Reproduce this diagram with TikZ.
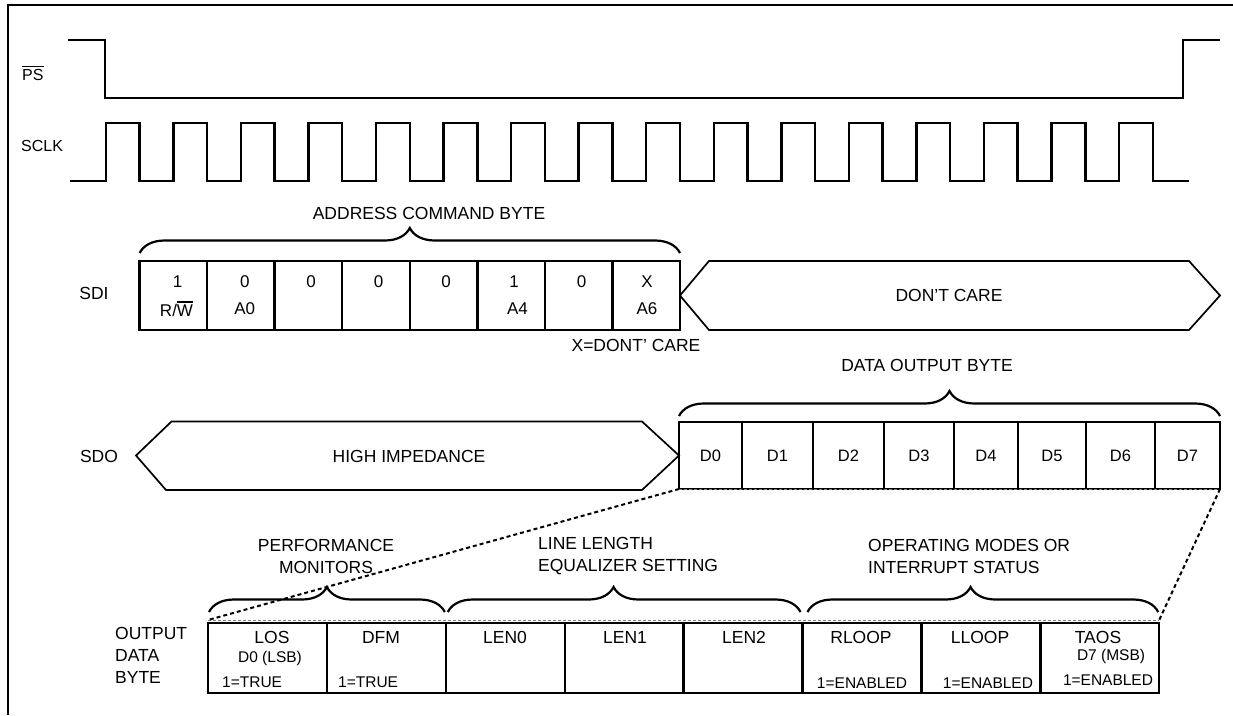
\documentclass[tikz,border=0pt]{standalone}
\usepackage{fontspec}
\setmainfont{Liberation Sans}
\usetikzlibrary{decorations.pathreplacing}

\newcommand\barsig[1]{\leavevmode\vbox{\hrule height 1.4pt\kern 2.2pt\hbox{#1}}}

\begin{document}
\begin{tikzpicture}[x=1pt,y=-1pt,
		wave/.style={line width=2.4pt},
		bus/.style={line width=1.7pt, line join=miter},
		bitcell/.style={draw, line width=2.4pt, inner sep=0pt, outer sep=0pt},
		bracetop/.style={line width=2.2pt, decorate, decoration={brace, amplitude=25pt}},
		lbl/.style={inner sep=0pt, font=\fontsize{17.5}{22}\selectfont},
		bit/.style={inner sep=0pt, font=\fontsize{17}{20}\selectfont},
		note/.style={inner sep=0pt, font=\fontsize{15.5}{18}\selectfont},
		zoomside/.style={line width=2pt, dash pattern=on 4pt off 3pt},
		zoomedge/.style={line width=0.7pt, gray, dash pattern=on 3pt off 2pt}]
				\useasboundingbox (0,0) rectangle (1233,715);
				\draw[line width=2pt] (8,715) -- (8,5) -- (1233,5);
				% PS and SCLK
				\node[lbl, anchor=west, font=\fontsize{16}{20}\selectfont] (ps) at (22,73) {\barsig{PS}};
				\node[lbl, anchor=west, font=\fontsize{16}{20}\selectfont] (sclk) at (21,146) {SCLK};
				\draw[wave] (68,40) -- (105,40) -- (105,98) -- (1183,98) -- (1183,40) -- (1220,40);
				\draw[wave] (70,181)
					-- (106,181) -- (106,123) -- (139.5,123) -- (139.5,181)
					-- (173.5,181) -- (173.5,123) -- (207,123) -- (207,181)
					-- (241,181) -- (241,123) -- (274.5,123) -- (274.5,181)
					-- (308.5,181) -- (308.5,123) -- (342,123) -- (342,181)
					-- (376,181) -- (376,123) -- (410,123) -- (410,181)
					-- (443.5,181) -- (443.5,123) -- (477.5,123) -- (477.5,181)
					-- (511,181) -- (511,123) -- (545,123) -- (545,181)
					-- (578.5,181) -- (578.5,123) -- (612.5,123) -- (612.5,181)
					-- (646,181) -- (646,123) -- (680,123) -- (680,181)
					-- (714,181) -- (714,123) -- (747.5,123) -- (747.5,181)
					-- (781.5,181) -- (781.5,123) -- (815,123) -- (815,181)
					-- (849,181) -- (849,123) -- (882.5,123) -- (882.5,181)
					-- (916.5,181) -- (916.5,123) -- (950,123) -- (950,181)
					-- (984,181) -- (984,123) -- (1017.5,123) -- (1017.5,181)
					-- (1051.5,181) -- (1051.5,123) -- (1085.5,123) -- (1085.5,181)
					-- (1119,181) -- (1119,123) -- (1153,123) -- (1153,181)
					-- (1189,181);
				% SDI
				\node[lbl] (sdi) at (94,293) {SDI};
				\node[bitcell, minimum width=67.55pt, minimum height=69pt] (s1) at (173.4,295.5) {};
				\node[bitcell, minimum width=67.55pt, minimum height=69pt] (s2) at (240.9,295.5) {};
				\node[bitcell, minimum width=67.55pt, minimum height=69pt] (s3) at (308.5,295.5) {};
				\node[bitcell, minimum width=67.55pt, minimum height=69pt] (s4) at (376.0,295.5) {};
				\node[bitcell, minimum width=67.55pt, minimum height=69pt] (s5) at (443.6,295.5) {};
				\node[bitcell, minimum width=67.55pt, minimum height=69pt] (s6) at (511.1,295.5) {};
				\node[bitcell, minimum width=67.55pt, minimum height=69pt] (s7) at (578.7,295.5) {};
				\node[bitcell, minimum width=67.55pt, minimum height=69pt] (s8) at (646.2,295.5) {};
				\node[bit] (v1) at (177.5,282) {1};
				\node[bit] (v2) at (244.8,282) {0};
				\node[bit] (v3) at (311,282) {0};
				\node[bit] (v4) at (378.7,282) {0};
				\node[bit] (v5) at (446,282) {0};
				\node[bit] (v6) at (514,282) {1};
				\node[bit] (v7) at (581.5,282) {0};
				\node[bit] (v8) at (647,282) {X};
				\node[bit] (rw) at (176.5,309) {R/\barsig{W}};
				\node[bit] (a0) at (244.8,309) {A0};
				\node[bit] (a4) at (517.5,309) {A4};
				\node[bit] (a6) at (647,309) {A6};
				\draw[bracetop] ([yshift=8pt]s1.north west) -- ([yshift=8pt]s8.north east);
				\node[lbl] (acb) at (429,213) {ADDRESS COMMAND BYTE};
				\draw[bus] (s8.east) -- (709,261) -- (1189,261) -- (1220,295.5) -- (1189,330) -- (709,330) -- cycle;
				\node[lbl] (dc) at (949,295.5) {DON'T CARE};
				\node[lbl] (xdc) at (636,345) {X=DONT' CARE};
				% SDO
				\node[lbl] (sdo) at (99,456) {SDO};
				\node[bitcell, minimum width=63pt, minimum height=67pt, font=\fontsize{16.5}{20}\selectfont] (d0) at (710.5,455.5) {D0};
				\node[bitcell, minimum width=71pt, minimum height=67pt, font=\fontsize{16.5}{20}\selectfont] (d1) at (777.5,455.5) {D1};
				\node[bitcell, minimum width=71pt, minimum height=67pt, font=\fontsize{16.5}{20}\selectfont] (d2) at (848.5,455.5) {D2};
				\node[bitcell, minimum width=70pt, minimum height=67pt, font=\fontsize{16.5}{20}\selectfont] (d3) at (919,455.5) {D3};
				\node[bitcell, minimum width=64pt, minimum height=67pt, font=\fontsize{16.5}{20}\selectfont] (d4) at (986,455.5) {D4};
				\node[bitcell, minimum width=68pt, minimum height=67pt, font=\fontsize{16.5}{20}\selectfont] (d5) at (1052,455.5) {D5};
				\node[bitcell, minimum width=69pt, minimum height=67pt, font=\fontsize{16.5}{20}\selectfont] (d6) at (1120.5,455.5) {D6};
				\node[bitcell, minimum width=65pt, minimum height=67pt, font=\fontsize{16.5}{20}\selectfont] (d7) at (1187.5,455.5) {D7};
				\draw[bus] (136,455.5) -- (171.5,421.5) -- (642,421.5) -- (d0.west) -- (642,490) -- (166,490) -- cycle;
				\node[lbl] (hiz) at (409,456) {HIGH IMPEDANCE};
				\draw[bracetop] ([yshift=6pt]d0.north west) -- ([yshift=6pt]d7.north east);
				\node[lbl] (dob) at (927,365) {DATA OUTPUT BYTE};
				% output data byte
				\node[lbl, anchor=west, align=left] (odb) at (115,655) {OUTPUT\\DATA\\BYTE};
				\node[bitcell, minimum width=118.9pt, minimum height=70pt] (o1) at (267.45,658) {};
				\node[bitcell, minimum width=118.9pt, minimum height=70pt] (o2) at (386.35,658) {};
				\node[bitcell, minimum width=118.9pt, minimum height=70pt] (o3) at (505.25,658) {};
				\node[bitcell, minimum width=118.9pt, minimum height=70pt] (o4) at (624.15,658) {};
				\node[bitcell, minimum width=118.9pt, minimum height=70pt] (o5) at (743.05,658) {};
				\node[bitcell, minimum width=118.9pt, minimum height=70pt] (o6) at (861.95,658) {};
				\node[bitcell, minimum width=118.9pt, minimum height=70pt] (o7) at (980.85,658) {};
				\node[bitcell, minimum width=118.9pt, minimum height=70pt] (o8) at (1099.75,658) {};
				\node[lbl] (los) at (272,637) {LOS};
				\node[note] (lsb) at (270,658) {D0 (LSB)};
				\node[note, anchor=west] (t1) at (222,682) {1=TRUE};
				\node[lbl] (dfm) at (381,637) {DFM};
				\node[note, anchor=west] (t2) at (338,682) {1=TRUE};
				\node[lbl] (len0) at (505,637) {LEN0};
				\node[lbl] (len1) at (625,637) {LEN1};
				\node[lbl] (len2) at (744,637) {LEN2};
				\node[lbl] (rloop) at (861,637) {RLOOP};
				\node[note] (e1) at (862,683) {1=ENABLED};
				\node[lbl] (lloop) at (980,637) {LLOOP};
				\node[note] (e2) at (988,683) {1=ENABLED};
				\node[lbl] (taos) at (1098,637) {TAOS};
				\node[note] (msb) at (1111,656) {D7 (MSB)};
				\node[note] (e3) at (1108,680) {1=ENABLED};
				\draw[bracetop] ([xshift=1pt,yshift=11pt]o1.north west) -- ([xshift=-1pt,yshift=11pt]o2.north east);
				\draw[bracetop, decoration={aspect=0.47}] ([xshift=2pt,yshift=11pt]o3.north west) -- ([xshift=-2pt,yshift=11pt]o5.north east);
				\draw[bracetop, decoration={aspect=0.465}] ([xshift=5pt,yshift=11pt]o6.north west) -- ([xshift=-1pt,yshift=11pt]o8.north east);
				\node[lbl, align=center] (pm) at (326,556) {PERFORMANCE\\MONITORS};
				\node[lbl, anchor=west, align=left] (lle) at (538,556) {LINE LENGTH\\EQUALIZER SETTING};
				\node[lbl, anchor=west, align=left] (omi) at (868,556) {OPERATING MODES OR\\INTERRUPT STATUS};
				% zoom lines
				\draw[zoomedge] (d0.south west) -- (d7.south east);
				\draw[zoomedge] ([yshift=3pt]o1.north west) -- ([yshift=3pt]o8.north east);
				\draw[zoomside] (d0.south west) -- ([yshift=3pt]o1.north west);
				\draw[zoomside] (d7.south east) -- ([yshift=3pt]o8.north east);
			\end{tikzpicture}
\end{document}
